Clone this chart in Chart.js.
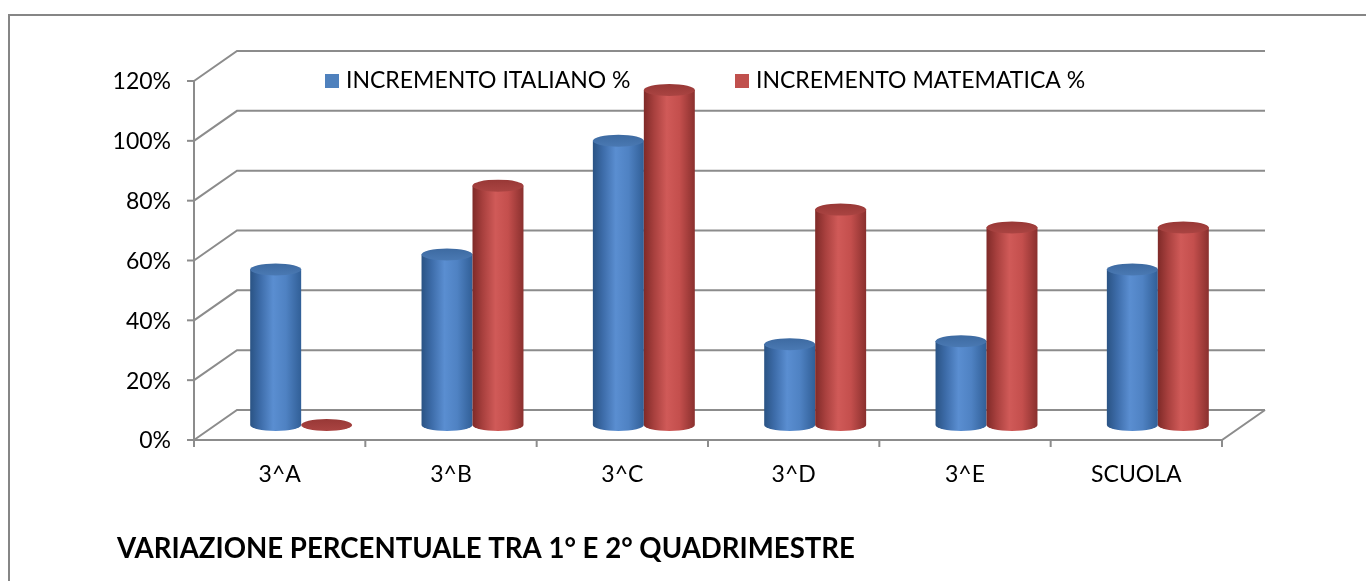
<!DOCTYPE html>
<html>
<head>
<meta charset="utf-8">
<script src="https://cdn.jsdelivr.net/npm/chart.js@4.4.1/dist/chart.umd.min.js"></script>
<style>
  html, body { margin: 0; padding: 0; background: #ffffff; }
  #wrap { position: relative; width: 1366px; height: 581px; }
  canvas { display: block; }
</style>
</head>
<body>
<div id="wrap"><canvas id="chart" width="1366" height="581"></canvas></div>
<script>
// Categories (classes) and the two series, in percent
const categories = ['3^A', '3^B', '3^C', '3^D', '3^E', 'SCUOLA'];
const italiano = [52, 57, 95, 27, 28, 52];
const matematica = [0, 80, 112, 72, 66, 66];
const seriesNames = ['INCREMENTO ITALIANO %', 'INCREMENTO MATEMATICA %'];
const yTicks = [0, 20, 40, 60, 80, 100, 120];
const chartTitle = 'VARIAZIONE PERCENTUALE TRA 1° E 2° QUADRIMESTRE';

const FONT = 'Lato, "Open Sans", "DejaVu Sans", sans-serif';
const GRID = '#8c8c8c';
// half of the depth offset between front plane and back wall
const DX = 21.5, DY = 15;

const palette = {
  blue: { stops: ['#2a5384', '#3d6ca9', '#5a8ed1', '#4f82c3', '#315f97'], top: '#3d6aa1', topEdge: '#4a79b3' },
  red:  { stops: ['#7f2a28', '#a8403e', '#d05a58', '#c44f4d', '#8a302e'], top: '#983836', topEdge: '#aa4442' }
};

function cylinder(ctx, x0, x1, yTop, yBase, pal) {
  const cx = (x0 + x1) / 2, rx = (x1 - x0) / 2, ry = 6;
  const g = ctx.createLinearGradient(x0, 0, x1, 0);
  const p = [0, 0.2, 0.45, 0.7, 1];
  pal.stops.forEach((c, i) => g.addColorStop(p[i], c));
  if (yBase - yTop > 0.5) {
    ctx.beginPath();
    ctx.moveTo(x0, yTop);
    ctx.lineTo(x0, yBase);
    ctx.ellipse(cx, yBase, rx, ry, 0, Math.PI, 0, true);
    ctx.lineTo(x1, yTop);
    ctx.closePath();
    ctx.fillStyle = g;
    ctx.fill();
  }
  ctx.beginPath();
  ctx.ellipse(cx, yTop, rx, ry, 0, 0, Math.PI * 2);
  const tg = ctx.createLinearGradient(0, yTop - ry, 0, yTop + ry);
  tg.addColorStop(0, pal.top);
  tg.addColorStop(1, pal.topEdge);
  ctx.fillStyle = tg;
  ctx.fill();
}

const framePlugin = {
  id: 'frame3d',
  beforeDatasetsDraw(chart) {
    const { ctx, chartArea: a, scales: { y } } = chart;
    const L = a.left, R = a.right;
    const y0 = y.getPixelForValue(0);
    ctx.save();
    // outer border
    ctx.strokeStyle = '#868686';
    ctx.lineWidth = 2;
    ctx.strokeRect(9, 15, 1400, 600);

    ctx.strokeStyle = GRID;
    ctx.lineWidth = 2;
    ctx.lineCap = 'butt';
    // back wall gridlines and side diagonals
    yTicks.forEach(v => {
      const py = y.getPixelForValue(v);
      ctx.beginPath();
      ctx.moveTo(L - DX, py + DY);
      ctx.lineTo(L + DX, py - DY);
      ctx.lineTo(R + DX, py - DY);
      ctx.stroke();
      // tick mark on the front axis
      ctx.beginPath();
      ctx.moveTo(L - DX - 7, py + DY);
      ctx.lineTo(L - DX, py + DY);
      ctx.stroke();
    });
    // front floor edge and right floor diagonal
    ctx.beginPath();
    ctx.moveTo(L - DX, y0 + DY);
    ctx.lineTo(R - DX, y0 + DY);
    ctx.lineTo(R + DX, y0 - DY);
    ctx.stroke();
    // front vertical axis
    ctx.beginPath();
    ctx.moveTo(L - DX, y.getPixelForValue(120) + DY);
    ctx.lineTo(L - DX, y0 + DY + 7);
    ctx.stroke();
    // category ticks
    const n = categories.length;
    const step = (R - L) / n;
    for (let i = 0; i <= n; i++) {
      const px = L - DX + i * step;
      ctx.beginPath();
      ctx.moveTo(px, y0 + DY);
      ctx.lineTo(px, y0 + DY + 7);
      ctx.stroke();
    }
    // y tick labels
    ctx.fillStyle = '#000000';
    ctx.font = '23px ' + FONT;
    ctx.textAlign = 'right';
    ctx.textBaseline = 'middle';
    yTicks.forEach(v => {
      ctx.fillText(v + '%', L - DX - 23, y.getPixelForValue(v) + DY + 1);
    });
    // category labels
    const xs = chart.scales.x;
    ctx.textAlign = 'center';
    categories.forEach((c, i) => {
      ctx.fillText(c, xs.getPixelForValue(i) - DX, y0 + DY + 35);
    });
    ctx.restore();
  },
  afterDatasetsDraw(chart) {
    const { ctx } = chart;
    const metas = [chart.getDatasetMeta(0), chart.getDatasetMeta(1)];
    const pals = [palette.blue, palette.red];
    ctx.save();
    for (let i = 0; i < categories.length; i++) {
      metas.forEach((m, k) => {
        const el = m.data[i];
        const w = el.width;
        cylinder(ctx, el.x - w / 2, el.x + w / 2, el.y, el.base, pals[k]);
      });
    }
    // legend
    ctx.font = '23px ' + FONT;
    ctx.textAlign = 'left';
    ctx.textBaseline = 'middle';
    const leg = [[325, '#4f81bd'], [735, '#c0504d']];
    leg.forEach(([lx, col], k) => {
      ctx.fillStyle = col;
      ctx.fillRect(lx, 74, 14, 14);
      ctx.fillStyle = '#000000';
      ctx.fillText(chart.data.datasets[k].label, lx + 21, 81);
    });
    // title
    ctx.font = 'bold 27.6px ' + FONT;
    ctx.fillText(chartTitle, 117, 549);
    ctx.restore();
  }
};

new Chart(document.getElementById('chart'), {
  type: 'bar',
  data: {
    labels: categories,
    datasets: [
      { label: seriesNames[0], data: italiano, backgroundColor: 'rgba(0,0,0,0)', borderWidth: 0 },
      { label: seriesNames[1], data: matematica, backgroundColor: 'rgba(0,0,0,0)', borderWidth: 0 }
    ]
  },
  options: {
    responsive: false,
    animation: false,
    events: [],
    layout: { padding: { left: 215.5, right: 122.5, top: 66, bottom: 156 } },
    datasets: { bar: { categoryPercentage: 0.595, barPercentage: 1.0 } },
    scales: {
      x: { display: false },
      y: { display: false, min: 0, max: 120 }
    },
    plugins: { legend: { display: false }, tooltip: { enabled: false }, title: { display: false } }
  },
  plugins: [framePlugin]
});
</script>
</body>
</html>
